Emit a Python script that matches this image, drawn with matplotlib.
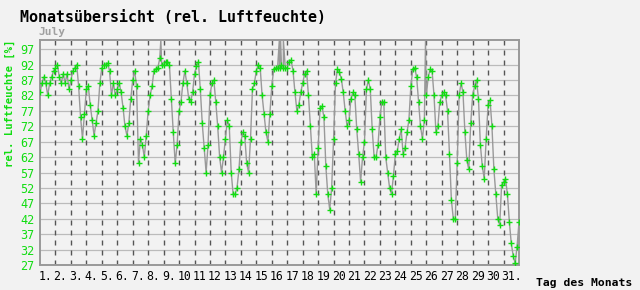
import numpy as np
import matplotlib
matplotlib.use("Agg")
import matplotlib.pyplot as plt
from matplotlib.transforms import ScaledTranslation

# =========================
# DATA (rel. humidity, one value every 3 hours, July)
# =========================
rh = [
    83, 86, 88, 86, 82, 86, 88, 90,          # 1
    91, 92, 88, 86, 89, 86, 89, 84,          # 2
    87, 90, 91, 92, 85, 75, 68, 76,          # 3
    84, 85, 79, 74, 69, 73, 77, 86,          # 4
    91, 92, 92, 92.5, 90, 82, 86, 82,        # 5
    84, 86, 83, 78, 72, 69, 73, 81,          # 6
    87, 90, 85, 60, 68, 66, 62, 69,          # 7
    77, 82, 85, 90, 90.5, 91, 94, 92,        # 8
    92, 93, 93, 92, 81, 70, 60, 66,          # 9
    77, 80, 86, 90, 86, 81, 80, 83,          # 10
    89, 91.5, 93, 84, 73, 65, 57, 66,        # 11
    82, 86, 87, 80, 72, 62, 57, 62,          # 12
    68, 74, 72, 57, 50, 50, 52, 58,          # 13
    67, 70, 69, 60, 57, 68, 84, 86,          # 14
    90, 92, 91, 82, 76, 70, 67, 76,          # 15
    85, 90.5, 91, 91, 91, 92, 91, 91,        # 16
    91, 93, 93.5, 90, 83, 77, 79, 83,        # 17
    86, 89, 90, 82, 72, 62, 63, 50,          # 18
    65, 78, 78.5, 75, 59, 50, 45, 52,        # 19
    68, 86, 90.5, 89.5, 87.5, 83, 77, 72,    # 20
    74, 81, 83, 82, 71, 63, 54, 62,          # 21
    67, 84, 87, 84, 71, 62, 62, 66,          # 22
    75, 80, 80, 62, 57, 52, 50, 56,          # 23
    63, 64, 68, 71, 63, 65, 70, 74,          # 24
    85, 90.5, 91, 88, 80, 72, 68, 74,        # 25
    82, 88, 90.5, 90, 82, 70, 72, 80,        # 26
    82, 83, 82, 77, 63, 48, 42, 42,          # 27
    60, 82, 86, 83, 70, 61, 58, 73,          # 28
    82, 85, 87, 81, 66, 59, 55, 68,          # 29
    79, 80.5, 72, 58, 50, 42, 40, 53,        # 30
    54, 55, 50, 41, 34, 30, 27.5, 33,        # 31
    41,
]

# short spikes to 100 % (time in days since 1 July 00:00)
spike_t = [7.82, 15.49, 15.57, 15.75, 24.95]
spike_rh = [100, 100, 100, 100, 100]

days = list(range(1, 32))
# the two-digit labels lose their dot in the original (overdrawn by the next one)
day_labels = [f"{d}." if d < 10 or d == 31 else str(d) for d in days]
y_ticks = list(range(27, 98, 5))

# =========================
# PREP
# =========================
t = np.arange(len(rh)) * 3 / 24.0
t_all = np.concatenate([t, spike_t])
v_all = np.concatenate([rh, spike_rh])
order = np.argsort(t_all, kind="stable")
t_all, v_all = t_all[order], v_all[order]

GREEN = "#11dd11"
BG = "#f2f2f2"
MONO = "DejaVu Sans Mono"

# =========================
# PLOT
# =========================
fig = plt.figure(figsize=(6.4, 2.9), dpi=100, facecolor=BG)
ax = fig.add_axes([40 / 640, 25 / 290, 479 / 640, 225 / 290], facecolor=BG)

ax.set_xlim(0, 31)
ax.set_ylim(27, 100)

for y in y_ticks:
    ax.axhline(y, color="#bbbbbb", lw=0.9, zorder=1)
for d in days[1:]:
    ax.axvline(d - 1, color="#555555", lw=1.0, linestyle=(0, (3.6, 3.6)), zorder=1)

ax.plot(t_all, v_all, color="#999999", lw=1.0, zorder=2)
ax.plot(t, rh, linestyle="none", marker="+", ms=4, mew=1.0, color=GREEN, zorder=3)

for s in ax.spines.values():
    s.set_color("#999999")
    s.set_linewidth(1.4)

ax.set_yticks(y_ticks)
ax.set_yticklabels([str(y) for y in y_ticks], color=GREEN, fontsize=8.5, family=MONO)
ax.tick_params(axis="y", length=0, pad=4)
ax.set_xticks([])

shift = ax.transData + ScaledTranslation(0, -5 / 100, fig.dpi_scale_trans)
for d, lab in zip(days, day_labels):
    ax.text(d - 1 - 0.12, 27, lab, transform=shift, ha="left", va="top",
            fontsize=8.3, family=MONO, color="black")

fig.text(20 / 640, 1 - 18 / 290, "Monatsübersicht (rel. Luftfeuchte)", ha="left", va="center",
         fontsize=10.8, family=MONO, weight="bold", color="black")
fig.text(38 / 640, 1 - 32 / 290, "July", ha="left", va="center",
         fontsize=8, family=MONO, weight="bold", color="#a0a0a0")
fig.text(10 / 640, 1 - 103 / 290, "rel. Luftfeuchte [%]", ha="center", va="center", rotation=90,
         fontsize=7.6, family=MONO, weight="bold", color=GREEN)
fig.text(632 / 640, 1 - 283 / 290, "Tag des Monats", ha="right", va="center",
         fontsize=8.2, family=MONO, weight="bold", color="black")

fig.savefig("out.png", dpi=100, facecolor=BG)
